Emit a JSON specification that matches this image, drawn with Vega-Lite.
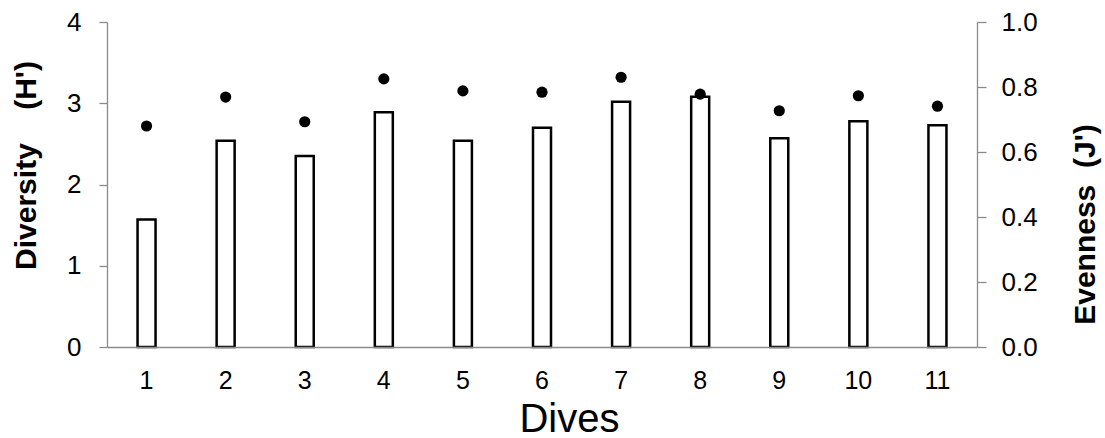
{
  "$schema": "https://vega.github.io/schema/vega-lite/v6.json",
  "autosize": "none",
  "width": 870,
  "height": 325,
  "padding": {"left": 107, "top": 22, "right": 128, "bottom": 91},
  "background": "white",
  "config": {
    "font": "Liberation Sans",
    "view": {"stroke": null},
    "axis": {"grid": false, "labelFont": "Liberation Sans", "titleFont": "Liberation Sans", "labelColor": "black", "titleColor": "black", "domainColor": "#8a8a8a", "tickColor": "#8a8a8a", "domainWidth": 1.3, "tickWidth": 1.3}
  },
  "data": {
    "values": [
      {"Dive": 1, "H": 1.57, "J": 0.680},
      {"Dive": 2, "H": 2.54, "J": 0.769},
      {"Dive": 3, "H": 2.35, "J": 0.693},
      {"Dive": 4, "H": 2.89, "J": 0.825},
      {"Dive": 5, "H": 2.54, "J": 0.788},
      {"Dive": 6, "H": 2.70, "J": 0.784},
      {"Dive": 7, "H": 3.02, "J": 0.830},
      {"Dive": 8, "H": 3.08, "J": 0.778},
      {"Dive": 9, "H": 2.57, "J": 0.727},
      {"Dive": 10, "H": 2.78, "J": 0.773},
      {"Dive": 11, "H": 2.73, "J": 0.741}
    ]
  },
  "encoding": {
    "x": {
      "field": "Dive", "type": "ordinal",
      "scale": {"paddingInner": 0, "paddingOuter": 0},
      "axis": {
        "title": "Dives", "titleFontSize": 40, "titleFontWeight": "normal",
        "titleBaseline": "alphabetic", "titleX": 462, "titleY": 84, "titleAlign": "center",
        "labelFontSize": 25, "labelAngle": 0, "ticks": false, "labelPadding": 21,
        "zindex": 1
      }
    }
  },
  "layer": [
    {
      "mark": {"type": "bar", "fill": "white", "stroke": "black", "strokeWidth": 2.5, "size": 18},
      "encoding": {
        "y": {
          "field": "H", "type": "quantitative",
          "scale": {"domain": [0, 4], "nice": false},
          "axis": {
            "orient": "left", "values": [0, 1, 2, 3, 4], "format": "d",
            "labelFontSize": 26, "tickSize": 8, "labelPadding": 18,
            "title": "Diversity\u00a0\u00a0\u00a0\u00a0(H')", "titleFontSize": 30, "titleFontWeight": "bold",
            "titleAngle": 270, "titleBaseline": "alphabetic", "titleAlign": "center",
            "titleX": -72, "titleY": 143
          }
        }
      }
    },
    {
      "mark": {"type": "point", "shape": "circle", "filled": true, "color": "black", "opacity": 1, "size": 125},
      "encoding": {
        "y": {
          "field": "J", "type": "quantitative",
          "scale": {"domain": [0, 1], "nice": false},
          "axis": {
            "orient": "right", "values": [0, 0.2, 0.4, 0.6, 0.8, 1.0], "format": ".1f",
            "labelFontSize": 26, "tickSize": 9, "labelPadding": 15,
            "title": "Evenness\u00a0\u00a0(J')", "titleFontSize": 30, "titleFontWeight": "bold",
            "titleAngle": 270, "titleBaseline": "alphabetic", "titleAlign": "center",
            "titleX": 117, "titleY": 202
          }
        }
      }
    }
  ],
  "resolve": {"scale": {"y": "independent"}}
}
